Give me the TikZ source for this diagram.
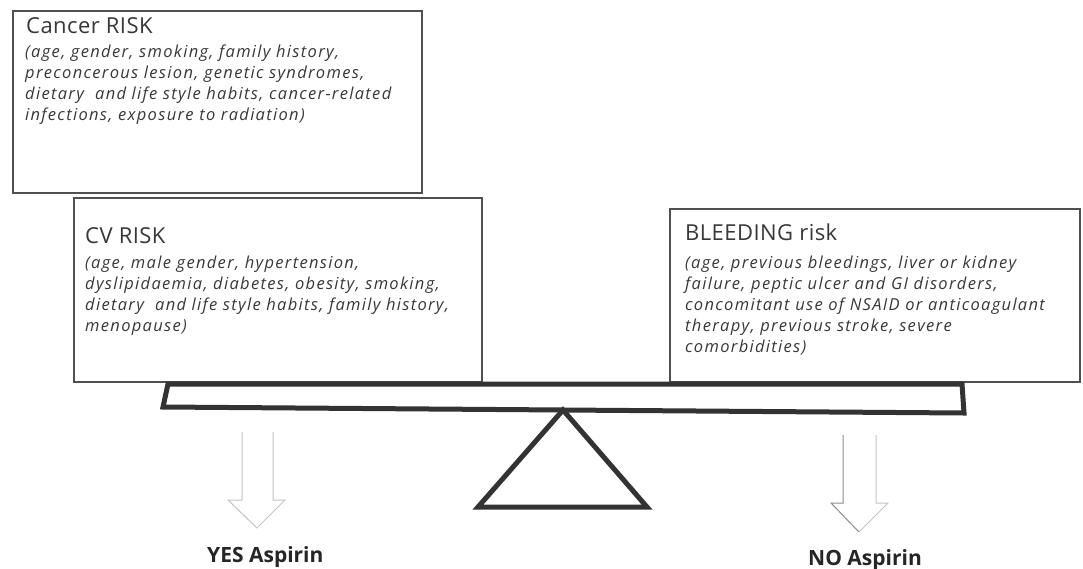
\documentclass[tikz,border=0pt]{standalone}
\usepackage{fontspec}
\setmainfont{Open Sans}
\newfontfamily\riskbodyfont{Open Sans}[LetterSpace=8]
\newfontfamily\risktitlefont{Open Sans}[LetterSpace=2]
\definecolor{boxgray}{HTML}{505050}
\definecolor{txtgray}{HTML}{383838}
\definecolor{arrgray}{HTML}{C4C4C4}
\definecolor{beamgray}{HTML}{333333}
\tikzset{
  riskbox/.style={draw=boxgray, line width=2pt, fill=white, inner sep=0pt, outer sep=0pt, anchor=north west},
  boxtitle/.style={font=\risktitlefont\fontsize{22}{26}\selectfont, text=txtgray, anchor=base west, inner sep=0pt},
  boxbody/.style={font=\riskbodyfont\fontsize{16.5}{20}\selectfont\itshape, text=txtgray, anchor=base west, inner sep=0pt},
  outlabel/.style={font=\fontsize{21}{24}\selectfont\bfseries, text=black!85, anchor=base west, inner sep=0pt},
  hollowarrow/.style={draw=arrgray, line width=1pt, line join=miter},
  solidpart/.style={draw=beamgray, line width=5pt, line join=miter}
}
\begin{document}
\begin{tikzpicture}[x=1pt,y=-1pt]
\useasboundingbox[fill=white] (0,0) rectangle (1083,568);

% boxes
\node[riskbox, minimum width=409pt, minimum height=182pt] (cancer) at (13,11) {};
\node[riskbox, minimum width=408pt, minimum height=184pt] (cv) at (74,198) {};
\node[riskbox, minimum width=410pt, minimum height=173pt] (bleed) at (670,209) {};

% cancer text
\node[boxtitle] (ct) at (26,33) {Cancer RISK};
\node[boxbody] (c1) at (25,57) {(age, gender, smoking, family history,};
\node[boxbody] (c2) at (25,78) {preconcerous lesion, genetic syndromes,};
\node[boxbody] (c3) at (25,99) {dietary\ \ and life style habits, cancer-related};
\node[boxbody] (c4) at (25,120) {infections, exposure to radiation)};

% CV text
\node[boxtitle] (vt) at (85,243) {CV RISK};
\node[boxbody] (v1) at (85,268) {(age, male gender, hypertension,};
\node[boxbody] (v2) at (85,289) {dyslipidaemia, diabetes, obesity, smoking,};
\node[boxbody] (v3) at (85,310) {dietary\ \ and life style habits, family history,};
\node[boxbody] (v4) at (85,331) {menopause)};

% bleeding text
\node[boxtitle] (bt) at (685,240) {BLEEDING risk};
\node[boxbody] (b1) at (685,268) {(age, previous bleedings, liver or kidney};
\node[boxbody] (b2) at (685,289) {failure, peptic ulcer and GI disorders,};
\node[boxbody] (b3) at (685,310) {concomitant use of NSAID or anticoagulant};
\node[boxbody] (b4) at (685,331) {therapy, previous stroke, severe};
\node[boxbody] (b5) at (685,352) {comorbidities)};

% beam
\coordinate (btl) at (168,384);
\coordinate (btr) at (962,384);
\coordinate (bbr) at (964,413);
\coordinate (bbl) at (163,407);
\draw[solidpart] (btl) -- (btr) -- (bbr) -- (bbl) -- cycle;

% fulcrum
\coordinate (apex) at (563,410);
\coordinate (fl) at (478,507);
\coordinate (fr) at (647,507);
\draw[solidpart] (apex) -- (fr) -- (fl) -- cycle;

% arrows
\coordinate (la1) at (242,432);
\coordinate (la2) at (273,432);
\coordinate (ltip) at (257,528);
\draw[hollowarrow] (la1) -- (242,500) -- (228,500) -- (ltip) -- (285,500) -- (273,500) -- (la2);
\coordinate (ra1) at (843,435);
\coordinate (ra2) at (876,435);
\coordinate (rtip) at (859,532);
\draw[hollowarrow] (ra2) -- (876,503) -- (888,503) -- (rtip);
\draw[hollowarrow, draw=black!45] (ra1) -- (843,503) -- (831,503) -- (rtip);

% labels
\node[outlabel] (yes) at (207,562) {YES Aspirin};
\node[outlabel] (no) at (808,565) {NO Aspirin};
\end{tikzpicture}
\end{document}
